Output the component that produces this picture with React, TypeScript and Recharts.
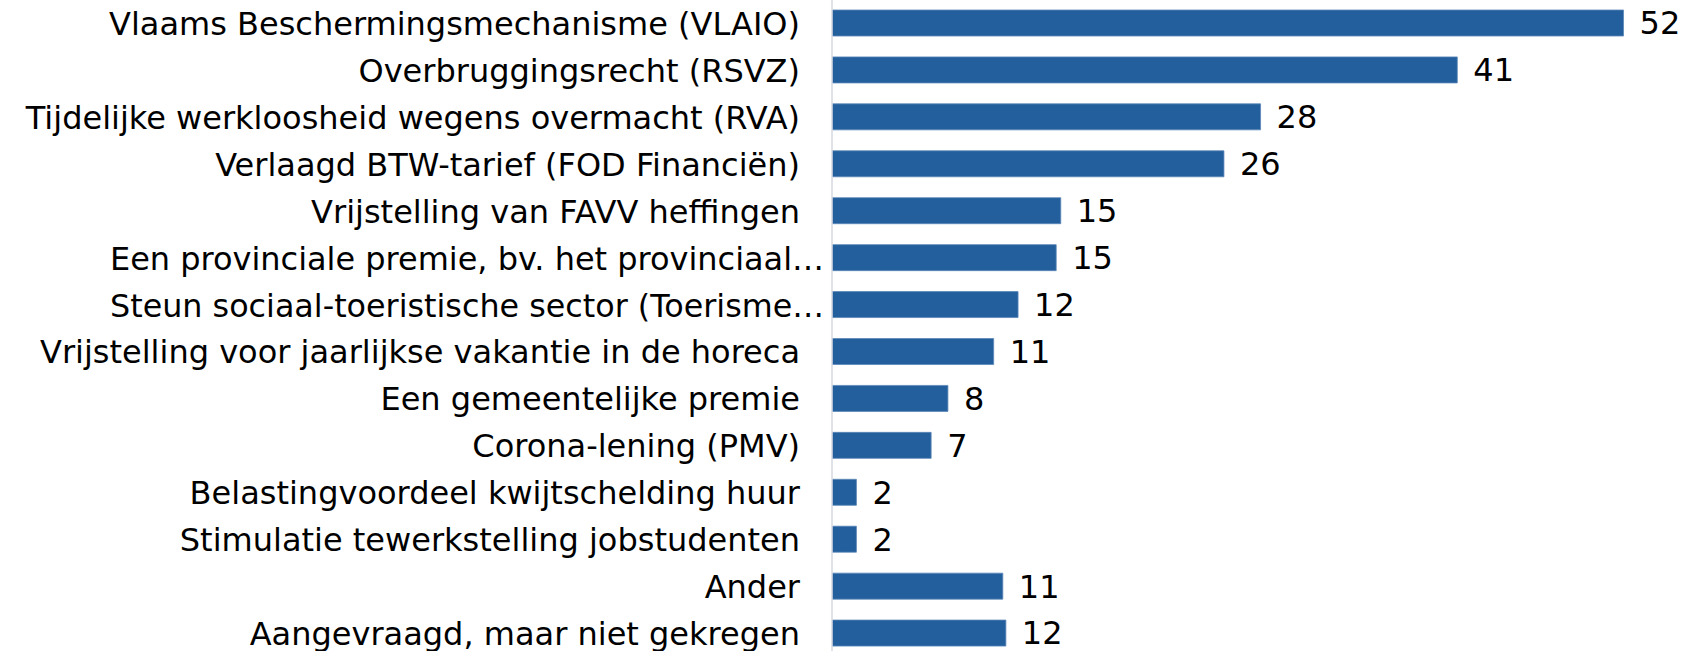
import React from 'react';
import { BarChart, Bar, XAxis, YAxis, LabelList, ReferenceLine } from 'recharts';

const categories: string[] = [
  'Vlaams Beschermingsmechanisme (VLAIO)',
  'Overbruggingsrecht (RSVZ)',
  'Tijdelijke werkloosheid wegens overmacht (RVA)',
  'Verlaagd BTW-tarief (FOD Financiën)',
  'Vrijstelling van FAVV heffingen',
  'Een provinciale premie, bv. het provinciaal…',
  'Steun sociaal-toeristische sector (Toerisme…',
  'Vrijstelling voor jaarlijkse vakantie in de horeca',
  'Een gemeentelijke premie',
  'Corona-lening (PMV)',
  'Belastingvoordeel kwijtschelding huur',
  'Stimulatie tewerkstelling jobstudenten',
  'Ander',
  'Aangevraagd, maar niet gekregen',
];

// bar lengths as measured off the chart
const shares: number[] = [51.9, 41.0, 28.1, 25.7, 15.0, 14.7, 12.2, 10.6, 7.6, 6.5, 1.6, 1.6, 11.2, 11.4];
// numbers printed next to the bars
const labels: number[] = [52, 41, 28, 26, 15, 15, 12, 11, 8, 7, 2, 2, 11, 12];

const data = categories.map((name, i) => ({ name, value: shares[i], label: labels[i] }));

const FONT = '"DejaVu Sans", Verdana, sans-serif';
const FONT_SIZE = 32;
const BAR_COLOR = '#235f9c';
const AXIS_WIDTH = 832;

const CategoryTick = (props: { x?: number; y?: number; payload?: { value: string } }) => {
  const { x = 0, y = 0, payload } = props;
  const text = payload?.value ?? '';
  // truncated labels are squeezed to fit the axis, like the original
  const truncated = text.endsWith('…');
  return (
    <text
      x={truncated ? AXIS_WIDTH - 8 : x}
      y={y}
      dy="0.36em"
      textAnchor="end"
      fontSize={FONT_SIZE}
      fontFamily={FONT}
      fill="#000"
      textLength={truncated ? AXIS_WIDTH - 8 - 110 : undefined}
      lengthAdjust={truncated ? 'spacingAndGlyphs' : undefined}
    >
      {text}
    </text>
  );
};

export default function App() {
  return (
    <div style={{ position: 'absolute', left: 0, top: 0, width: 1683, height: 651, overflow: 'hidden', background: '#fff' }}>
      <BarChart
        width={1683}
        height={657}
        data={data}
        layout="vertical"
        margin={{ top: 0, right: 0, bottom: 0, left: 0 }}
        barCategoryGap={0}
      >
        <XAxis type="number" domain={[0, 55.8]} allowDataOverflow hide />
        <YAxis
          type="category"
          dataKey="name"
          width={AXIS_WIDTH}
          axisLine={false}
          tickLine={false}
          tickSize={0}
          tickMargin={32}
          interval={0}
          tick={<CategoryTick />}
        />
        <ReferenceLine x={0} stroke="#d6d9e0" strokeWidth={1.5} />
        <Bar
          dataKey="value"
          fill={BAR_COLOR}
          stroke="#5a86b8"
          strokeWidth={0.8}
          barSize={26}
          isAnimationActive={false}
        >
          <LabelList
            dataKey="label"
            position="right"
            offset={16}
            fill="#000"
            fontSize={FONT_SIZE}
            fontFamily={FONT}
          />
        </Bar>
      </BarChart>
    </div>
  );
}
